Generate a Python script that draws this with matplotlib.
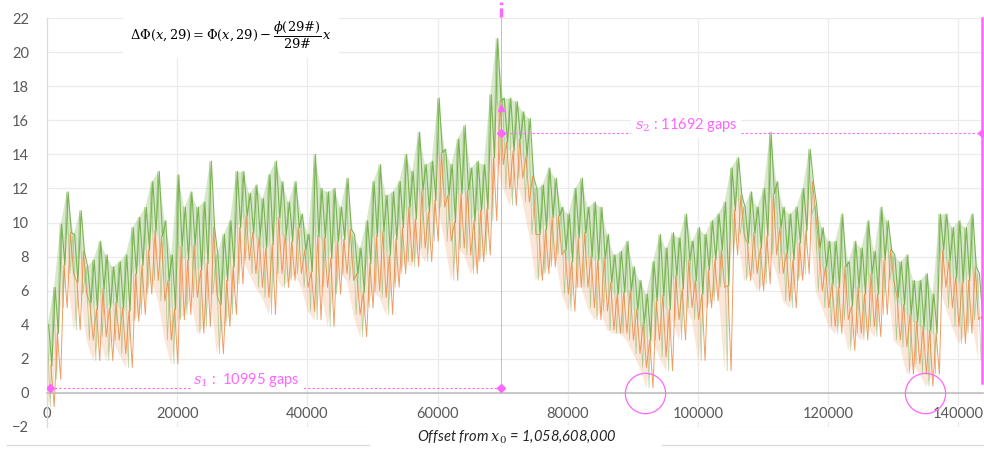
import numpy as np
import matplotlib
matplotlib.use("Agg")
import matplotlib.pyplot as plt
from matplotlib.lines import Line2D
from matplotlib.patches import Rectangle

# offsets in thousands, one bin per 1000
offset_k = list(range(0, 144))

# upper edge of the green band
upper = [4.0, 6.2, 9.9, 11.8, 9.3, 10.7, 7.4, 7.8, 8.9, 8.1,
         7.4, 7.7, 8.1, 9.7, 10.3, 10.9, 12.4, 13.0, 10.1, 8.1,
         12.8, 10.9, 11.8, 10.9, 11.2, 13.6, 8.1, 9.3, 10.1, 13.0,
         13.0, 11.7, 12.2, 11.4, 12.8, 13.6, 12.4, 11.2, 12.4, 10.5,
         9.3, 14.0, 12.0, 11.8, 12.0, 10.9, 12.6, 9.3, 8.5, 10.1,
         12.4, 13.4, 11.6, 11.8, 12.4, 14.0, 13.0, 15.3, 13.4, 13.6,
         17.3, 14.3, 13.4, 14.9, 15.7, 13.2, 13.6, 13.4, 17.5, 20.8,
         17.3, 17.3, 17.1, 16.5, 16.1, 12.0, 12.2, 13.2, 12.6, 10.9,
         10.5, 12.0, 12.6, 10.9, 11.2, 10.9, 9.3, 8.1, 8.3, 8.9,
         7.4, 6.6, 5.8, 7.7, 9.3, 8.5, 9.4, 9.1, 10.5, 8.9,
         9.7, 9.3, 10.1, 10.5, 11.2, 13.2, 13.8, 10.9, 11.8, 10.9,
         12.0, 15.3, 12.4, 10.9, 10.5, 10.9, 12.0, 14.3, 11.0, 9.7,
         8.9, 8.9, 10.5, 7.7, 8.9, 8.5, 10.1, 8.3, 10.9, 10.1,
         8.1, 7.7, 8.1, 6.6, 6.6, 7.0, 5.8, 10.5, 10.5, 9.7,
         10.1, 9.7, 10.5, 7.0]

# where green meets orange
mid = [1.6, 3.5, 7.5, 9.4, 6.5, 8.3, 5.3, 4.9, 6.1, 5.0,
       5.3, 5.0, 4.8, 7.0, 7.5, 8.4, 9.5, 9.2, 6.6, 4.9,
       8.6, 7.8, 8.7, 7.2, 7.6, 9.7, 5.2, 6.6, 7.4, 9.7,
       10.4, 9.4, 9.2, 8.5, 8.7, 10.3, 9.3, 8.9, 9.7, 8.4,
       7.1, 9.2, 9.1, 7.9, 8.9, 9.0, 9.6, 7.0, 5.9, 7.6,
       9.2, 9.5, 8.1, 9.0, 9.7, 10.9, 10.2, 11.9, 10.6, 11.3,
       14.1, 11.6, 10.0, 11.7, 11.9, 10.1, 10.7, 10.8, 13.8, 17.1,
       14.7, 14.2, 14.9, 13.9, 12.7, 9.3, 9.6, 10.3, 10.4, 8.4,
       7.7, 9.1, 9.4, 8.0, 7.8, 7.9, 6.5, 5.8, 5.9, 6.0,
       4.9, 4.1, 3.1, 5.4, 5.7, 4.9, 6.9, 6.1, 7.8, 6.6,
       5.8, 7.2, 7.8, 8.4, 6.3, 10.7, 11.6, 8.8, 9.4, 8.5,
       9.2, 11.7, 9.7, 8.2, 7.8, 8.8, 9.5, 12.4, 8.5, 7.4,
       6.4, 6.2, 7.4, 5.1, 6.2, 5.8, 7.0, 5.8, 7.8, 8.4,
       5.6, 5.2, 4.6, 4.2, 3.9, 3.7, 3.5, 8.4, 7.8, 6.8,
       6.5, 6.6, 7.4, 4.5]

# lower edge of the orange band
lower = [-0.8, 0.8, 5.0, 7.0, 3.7, 5.8, 3.1, 1.9, 3.3, 1.9,
         3.1, 2.3, 1.5, 4.2, 4.6, 5.8, 6.6, 5.4, 3.1, 1.7,
         4.3, 4.6, 5.6, 3.5, 3.9, 5.8, 2.3, 3.9, 4.6, 6.4,
         7.8, 7.0, 6.2, 5.6, 4.6, 7.0, 6.2, 6.6, 7.0, 6.2,
         4.8, 4.3, 6.2, 3.9, 5.8, 7.0, 6.6, 4.6, 3.3, 5.0,
         6.0, 5.6, 4.6, 6.2, 7.0, 7.7, 7.4, 8.5, 7.7, 8.9,
         10.9, 8.9, 6.6, 8.5, 8.1, 7.0, 7.7, 8.1, 10.1, 13.4,
         12.0, 11.0, 12.6, 11.2, 9.3, 6.6, 7.0, 7.4, 8.1, 5.8,
         4.8, 6.2, 6.2, 5.0, 4.3, 4.8, 3.7, 3.5, 3.5, 3.1,
         2.3, 1.5, 0.3, 3.1, 2.1, 1.3, 4.3, 3.1, 5.0, 4.3,
         1.9, 5.0, 5.4, 6.2, 1.3, 8.1, 9.3, 6.6, 7.0, 6.0,
         6.4, 8.1, 7.0, 5.4, 5.0, 6.6, 7.0, 10.5, 6.0, 5.0,
         3.9, 3.5, 4.3, 2.5, 3.5, 3.1, 3.9, 3.3, 4.6, 6.6,
         3.1, 2.7, 1.1, 1.7, 1.1, 0.4, 1.1, 6.2, 5.0, 3.9,
         2.9, 3.5, 4.3, 1.9]

x_tick_labels = ["0", "20000", "40000", "60000", "80000", "100000", "120000", "140000"]

s1_y = 0.3
s2_y = 15.25
split_x = 69700
end_x = 143700
s1_gaps = 10995
s2_gaps = 11692
minima_x = [91900, 134900]

MAGENTA = "#FF66FF"
GREEN = "#70AD47"
ORANGE = "#ED7D31"

plt.rcParams["font.family"] = ["Lato", "DejaVu Sans"]
plt.rcParams["mathtext.fontset"] = "dejavuserif"

fig = plt.figure(figsize=(9.84, 4.49), dpi=100)
ax = fig.add_axes([47 / 984, 1 - 427 / 449, 936 / 984, 409 / 449])

x0 = np.array(offset_k) * 1000.0

# pale body of the two bands
ax.fill_between(x0, lower, mid, color=ORANGE, alpha=0.18, lw=0, zorder=1.5)
ax.fill_between(x0, mid, upper, color=GREEN, alpha=0.28, lw=0, zorder=1.6)


def zigzag(xs, a, b, shift):
    # alternate between two read edges, half a bin apart
    px = np.column_stack([xs + shift, xs + shift + 500]).ravel()
    py = np.column_stack([a, b]).ravel()
    return px, py


# green swings over the whole band, orange over the lower half
gx, gy = zigzag(x0, upper, lower, 0)
ax.plot(gx, gy, color=GREEN, lw=0.5, alpha=0.55, zorder=2)
gx, gy = zigzag(x0, upper, mid, 250)
ax.plot(gx, gy, color=GREEN, lw=0.8, alpha=0.9, zorder=2.1)
ox, oy = zigzag(x0, mid, lower, 600)
ax.plot(ox, oy, color=ORANGE, lw=0.7, alpha=0.75, zorder=2.2)

ax.set_xlim(0, 143800)
ax.set_ylim(-2, 22)
ax.set_yticks(range(-2, 23, 2))
ax.set_xticks(range(0, 140001, 20000))
ax.set_xticklabels(x_tick_labels)
ax.grid(True, color="#EBEBEB", lw=0.9, zorder=0)
ax.set_axisbelow(True)

for side in ["top", "right"]:
    ax.spines[side].set_visible(False)
ax.spines["left"].set_color("#D9D9D9")
ax.spines["bottom"].set_position(("data", 0))
ax.spines["bottom"].set_color("#BFBFBF")
ax.spines["bottom"].set_linewidth(1.2)
ax.tick_params(axis="y", length=0, pad=13, labelsize=10.5, labelcolor="#595959")
ax.tick_params(axis="x", length=0, pad=10, labelsize=10.5, labelcolor="#595959")
for lbl in ax.get_xticklabels():
    lbl.set_bbox(dict(facecolor="white", edgecolor="none", pad=0.5))

# s1 / s2 guide lines
ax.plot([400, split_x], [s1_y, s1_y], color=MAGENTA, lw=0.8, ls=(0, (2, 2)),
        marker="D", markersize=4, markevery=[0, 1], zorder=4)
ax.plot([split_x, end_x], [s2_y, s2_y], color=MAGENTA, lw=0.8, ls=(0, (2, 2)),
        marker="D", markersize=4, markevery=[0, 1], zorder=4, clip_on=False)
ax.plot([split_x, split_x], [s1_y, 22], color=MAGENTA, lw=0.7, alpha=0.7, zorder=4)
ax.plot([split_x], [16.7], marker="^", color=MAGENTA, markersize=4, zorder=4)
ax.plot([split_x, split_x], [22.05, 22.95], color=MAGENTA, lw=2.5, ls=(0, (2.6, 1)),
        clip_on=False, zorder=4)
ax.plot([end_x, end_x], [0.6, 22], color=MAGENTA, lw=1.8, zorder=4, clip_on=False)

ax.text(22500, 0.75, rf"$s_1$ :  {s1_gaps} gaps", color=MAGENTA, fontsize=10.5,
        ha="left", va="center", zorder=5,
        bbox=dict(facecolor="white", edgecolor="none", pad=1.5))
ax.text(90300, 15.75, rf"$s_2$ : {s2_gaps} gaps", color=MAGENTA, fontsize=10.5,
        ha="left", va="center", zorder=5,
        bbox=dict(facecolor="white", edgecolor="none", pad=2.5))

# circles around the two deep minima
ax.plot(minima_x, [0, 0], ls="none", marker="o", markersize=29, markerfacecolor="none",
        markeredgecolor=MAGENTA, markeredgewidth=0.9, zorder=5, clip_on=False)

# formula
ax.text(12800, 21.0,
        r"$\Delta\Phi(x,29) = \Phi(x,29) - \dfrac{\phi(29\#)}{29\#}\,x$",
        fontsize=9.4, color="black", ha="left", va="center", zorder=5,
        bbox=dict(facecolor="white", edgecolor="none", pad=5))

# bottom border and axis title
fig.add_artist(Line2D([7 / 984, 1], [1 - 445 / 449] * 2, color="#D9D9D9", lw=0.9))
fig.add_artist(Rectangle((370 / 984, 0), 292 / 984, 24 / 449, facecolor="white",
                         edgecolor="none", zorder=3))
fig.text(517 / 984, 1 - 437 / 449, r"Offset from $x_0$ = 1,058,608,000",
         fontsize=10.5, style="italic", color="#262626", ha="center", va="center",
         zorder=4)

fig.savefig("out.png", dpi=100)
